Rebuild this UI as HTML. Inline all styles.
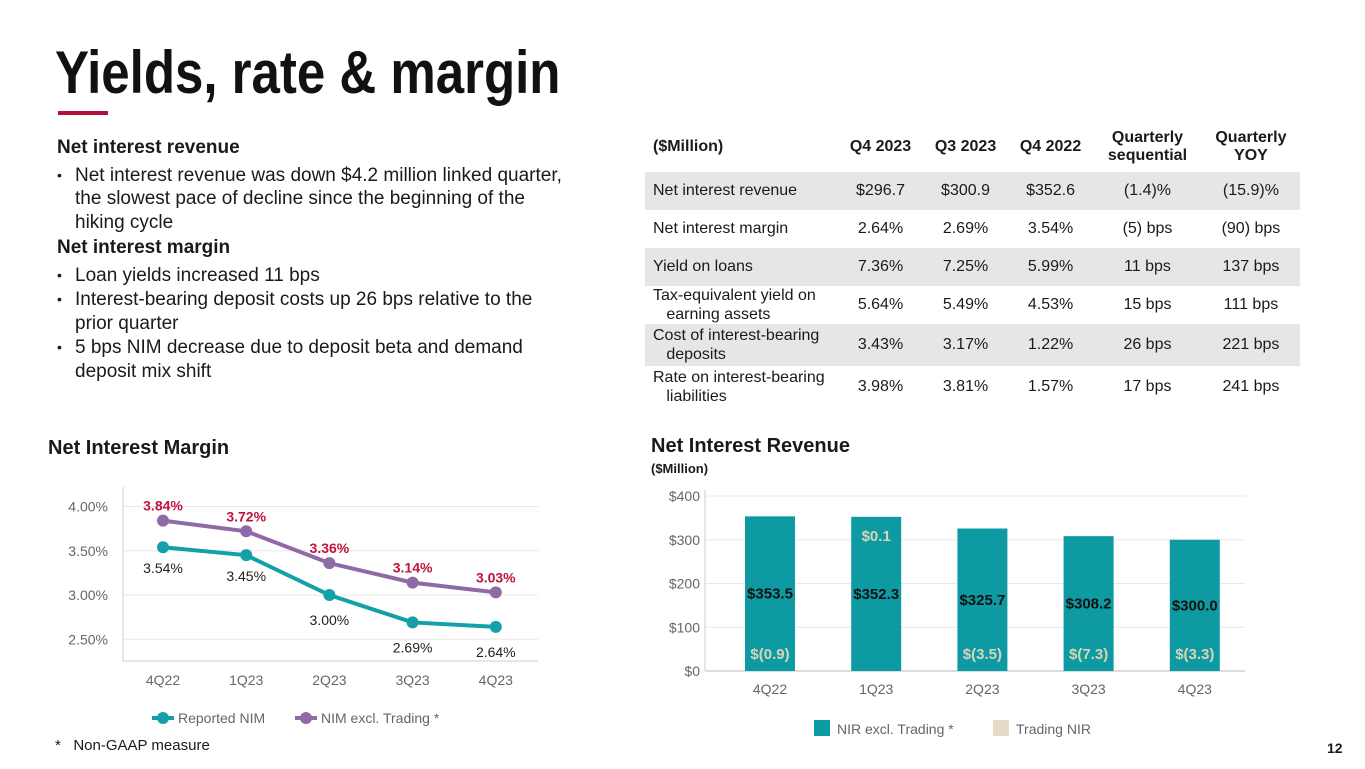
<!DOCTYPE html>
<html><head><meta charset="utf-8"><style>
body{margin:0;width:1365px;height:769px;background:#fff;font-family:"Liberation Sans",sans-serif;position:relative;overflow:hidden;color:#1a1a1a}
.a{position:absolute}
h1{position:absolute;left:55px;top:38px;margin:0;font-size:60px;font-weight:bold;color:#111;transform:scaleX(0.85);transform-origin:left top}
.txt{font-size:19px;line-height:23.5px}
.txt b{display:block;margin-top:2px;margin-bottom:4px}
.bl{padding-left:18px;position:relative;margin-bottom:1px}
.bl:before{content:"•";position:absolute;left:0;font-size:14px}
table{border-collapse:collapse;font-size:16px}
td{padding:0;text-align:center;height:38px}
td:first-child{text-align:left;padding-left:8px;width:185px}
tr.g td{background:#e6e6e6}
th{font-weight:bold;font-size:16px;height:48px}
</style></head><body>
<h1>Yields, rate &amp; margin</h1>
<div class="a" style="left:58px;top:111px;width:50px;height:4px;background:#b5103c"></div>
<div class="a txt" style="left:57px;top:136px;width:512px">
<b style="margin-top:0">Net interest revenue</b>
<div class="bl">Net interest revenue was down $4.2 million linked quarter, the slowest pace of decline since the beginning of the hiking cycle</div>
<b>Net interest margin</b>
<div class="bl">Loan yields increased 11 bps</div>
<div class="bl">Interest-bearing deposit costs up 26 bps relative to the prior quarter</div>
<div class="bl">5 bps NIM decrease due to deposit beta and demand deposit mix shift</div>
</div>
<table class="a" style="left:645px;top:122px;width:655px">
<tr><th style="text-align:left;padding-left:8px">($Million)</th><th>Q4 2023</th><th>Q3 2023</th><th>Q4 2022</th><th>Quarterly<br>sequential</th><th>Quarterly<br>YOY</th></tr>
<tr class="g"><td>Net interest revenue</td><td>$296.7</td><td>$300.9</td><td>$352.6</td><td>(1.4)%</td><td>(15.9)%</td></tr>
<tr><td>Net interest margin</td><td>2.64%</td><td>2.69%</td><td>3.54%</td><td>(5) bps</td><td>(90) bps</td></tr>
<tr class="g"><td>Yield on loans</td><td>7.36%</td><td>7.25%</td><td>5.99%</td><td>11 bps</td><td>137 bps</td></tr>
<tr><td style="line-height:19px">Tax-equivalent yield on<br>&nbsp;&nbsp;&nbsp;earning assets</td><td>5.64%</td><td>5.49%</td><td>4.53%</td><td>15 bps</td><td>111 bps</td></tr>
<tr class="g"><td style="line-height:19px;height:42px">Cost of interest-bearing<br>&nbsp;&nbsp;&nbsp;deposits</td><td>3.43%</td><td>3.17%</td><td>1.22%</td><td>26 bps</td><td>221 bps</td></tr>
<tr><td style="line-height:19px;height:42px">Rate on interest-bearing<br>&nbsp;&nbsp;&nbsp;liabilities</td><td>3.98%</td><td>3.81%</td><td>1.57%</td><td>17 bps</td><td>241 bps</td></tr>
</table>
<div class="a" style="left:48px;top:437px;font-size:20px;font-weight:bold">Net Interest Margin</div>
<div class="a" style="left:651px;top:435px;font-size:20px;font-weight:bold">Net Interest Revenue</div>
<div class="a" style="left:651px;top:461px;font-size:13px;font-weight:bold">($Million)</div>
<div class="a" style="left:55px;top:737px;font-size:15px">*&nbsp;&nbsp; Non-GAAP measure</div>
<div class="a" style="left:1327px;top:740px;font-size:14px;font-weight:bold">12</div>
<svg class="a" style="left:0;top:0" width="1365" height="769" id="charts"></svg>
<script>
const nimCats=["4Q22","1Q23","2Q23","3Q23","4Q23"];
const reportedNim=[3.54,3.45,3.00,2.69,2.64];
const nimExTrading=[3.84,3.72,3.36,3.14,3.03];
const nimTicks=[2.5,3.0,3.5,4.0];
const nirCats=["4Q22","1Q23","2Q23","3Q23","4Q23"];
const nirExTrading=[353.5,352.3,325.7,308.2,300.0];
const tradingNir=[-0.9,0.1,-3.5,-7.3,-3.3];
const nirTicks=[0,100,200,300,400];
const NS="http://www.w3.org/2000/svg";
const svg=document.getElementById('charts');
function mk(t,a,txt){const e=document.createElementNS(NS,t);for(const k in a)e.setAttribute(k,a[k]);if(txt!==undefined)e.textContent=txt;svg.appendChild(e);return e;}
const lx=i=>163+i*83.2, ly=v=>595-(v-3)*88.5;
nimTicks.forEach(t=>{
 const g=mk('line',{x1:123,x2:538,y1:ly(t),y2:ly(t),stroke:'#e8e8e8'});
 
 
 const l=mk('text',{x:108,y:ly(t)+5,'text-anchor':'end','font-size':14,fill:'#666','font-family':'Liberation Sans'},t.toFixed(2)+'%');
 
 
});
mk('line',{x1:123,x2:123,y1:487,y2:661,stroke:'#ccc'});
mk('line',{x1:123,x2:538,y1:661,y2:661,stroke:'#ccc'});
nimCats.forEach((c,i)=>{const t=mk('text',{x:lx(i),y:685,'text-anchor':'middle','font-size':14,fill:'#666','font-family':'Liberation Sans'},c);
 
 });
function series(vals,col,name,lblCol,lblBold,above){
 const p=mk('polyline',{points:vals.map((v,i)=>lx(i)+','+ly(v)).join(' '),fill:'none',stroke:col,'stroke-width':4});
 
 
 vals.forEach((v,i)=>{const c=mk('circle',{cx:lx(i),cy:ly(v),r:6,fill:col});
  
  
  const dy=above?-10:(i<2?26:30);
  const t=mk('text',{x:lx(i),y:ly(v)+dy,'text-anchor':'middle','font-size':14,fill:lblCol,'font-weight':lblBold?'bold':'normal','font-family':'Liberation Sans'},v.toFixed(2)+'%');
  
  });
}
series(reportedNim,'#14a0a8','reported-nim','#222',false,false);
series(nimExTrading,'#8e6aa6','nim-ex-trading','#c0143c',true,true);
[[152,'#14a0a8','Reported NIM','legend-reported-nim'],[295,'#8e6aa6','NIM excl. Trading *','legend-nim-ex-trading']].forEach(([x,c,t,n])=>{
 mk('line',{x1:x,x2:x+22,y1:718,y2:718,stroke:c,'stroke-width':4});
 mk('circle',{cx:x+11,cy:718,r:6,fill:c});
 const e=mk('text',{x:x+26,y:723,'font-size':14,fill:'#666','font-family':'Liberation Sans'},t);
 
 
});
const bx=i=>770+i*106.2, by=v=>671-v*0.4375;
nirTicks.forEach(t=>{
 const g=mk('line',{x1:705,x2:1245,y1:by(t),y2:by(t),stroke:t?'#e8e8e8':'#bbb'});
 
 
 const l=mk('text',{x:700,y:by(t)+5,'text-anchor':'end','font-size':14,fill:'#666','font-family':'Liberation Sans'},'$'+t);
 
 
});
mk('line',{x1:705,x2:705,y1:490,y2:671,stroke:'#ccc'});
nirCats.forEach((c,i)=>{
 const tot=nirExTrading[i]+Math.max(tradingNir[i],0);
 const r=mk('rect',{x:bx(i)-25,y:by(tot),width:50,height:by(0)-by(tot),fill:'#0e9aa3'});
 
 
 const v=mk('text',{x:bx(i),y:by(nirExTrading[i]/2)+5,'text-anchor':'middle','font-size':15,'font-weight':'bold',fill:'#111','font-family':'Liberation Sans'},'$'+nirExTrading[i].toFixed(1));
 
 
 const tv=tradingNir[i], s=tv<0?'$('+Math.abs(tv).toFixed(1)+')':'$'+tv.toFixed(1);
 const ty=tv<0?by(0)-12:by(tot)+24;
 const tl=mk('text',{x:bx(i),y:ty,'text-anchor':'middle','font-size':15,'font-weight':'bold',fill:'#d8d4b8','font-family':'Liberation Sans'},s);
 
 
 const x=mk('text',{x:bx(i),y:694,'text-anchor':'middle','font-size':14,fill:'#666','font-family':'Liberation Sans'},c);
 
 
});
[[814,'#0e9aa3','NIR excl. Trading *','legend-nir-ex-trading'],[993,'#e6dcc6','Trading NIR','legend-trading-nir']].forEach(([x,c,t,n])=>{
 mk('rect',{x:x,y:720,width:16,height:16,fill:c});
 const e=mk('text',{x:x+23,y:734,'font-size':14,fill:'#666','font-family':'Liberation Sans'},t);
 
 
});
</script>
</body></html>
